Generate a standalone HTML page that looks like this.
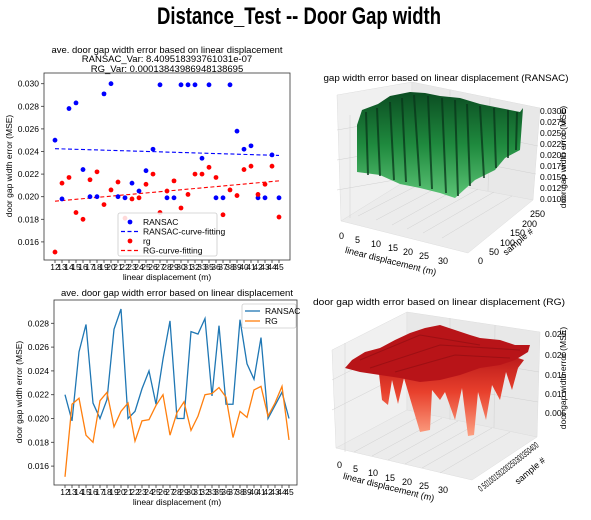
<!DOCTYPE html>
<html><head><meta charset="utf-8"><style>
body{margin:0;background:#fff;}
svg{display:block;font-family:"Liberation Sans","DejaVu Sans",sans-serif;}
</style></head><body>
<svg id="root" width="591" height="520" viewBox="0 0 591 520" xmlns="http://www.w3.org/2000/svg">
<defs>
<linearGradient id="gg" x1="0" y1="0" x2="0" y2="1"><stop offset="0" stop-color="#0b4d22"/><stop offset="0.5" stop-color="#1f8a3e"/><stop offset="1" stop-color="#5cc476"/></linearGradient>
<linearGradient id="rg" x1="0" y1="0" x2="0" y2="1"><stop offset="0" stop-color="#b01016"/><stop offset="0.5" stop-color="#e8402c"/><stop offset="1" stop-color="#fca082"/></linearGradient>
</defs>
<text x="299" y="24" text-anchor="middle" font-weight="bold" font-size="24" textLength="284" lengthAdjust="spacingAndGlyphs">Distance_Test -- Door Gap width</text>

<g id="sc">
<text x="167" y="53" text-anchor="middle" font-size="9.5" textLength="231" lengthAdjust="spacingAndGlyphs">ave. door gap width error based on linear displacement</text>
<text x="167" y="62" text-anchor="middle" font-size="9.5">RANSAC_Var: 8.409518393761031e-07</text>
<text x="167" y="72" text-anchor="middle" font-size="9.5">RG_Var: 0.00013843986948138695</text>
<rect x="44" y="73" width="246" height="187" fill="none" stroke="#333" stroke-width="0.8"/>
<text transform="translate(12,166) rotate(-90)" text-anchor="middle" font-size="8.5">door gap width error (MSE)</text>
<text x="167" y="280" text-anchor="middle" font-size="8.5">linear displacement (m)</text>
</g>

<g id="lc">
<text x="177" y="296" text-anchor="middle" font-size="9.5" textLength="232" lengthAdjust="spacingAndGlyphs">ave. door gap width error based on linear displacement</text>
<rect x="54" y="300" width="243" height="185" fill="none" stroke="#333" stroke-width="0.8"/>
<text transform="translate(22,392) rotate(-90)" text-anchor="middle" font-size="8.5">door gap width error (MSE)</text>
<text x="177" y="505" text-anchor="middle" font-size="8.5">linear displacement (m)</text>
</g>

<g>
<text x="446" y="81" text-anchor="middle" font-size="9.5" textLength="245" lengthAdjust="spacingAndGlyphs">gap width error based on linear displacement (RANSAC)</text>
<polygon points="337,95 412,82 412,177 341,221" fill="#f0f0f0" stroke="#ddd" stroke-width="0.5"/>
<polygon points="412,82 540,108 533,200 412,177" fill="#e8e8e8" stroke="#ddd" stroke-width="0.5"/>
<polygon points="341,221 468,253 533,200 412,177" fill="#ececec" stroke="#ddd" stroke-width="0.5"/>
<g stroke="#d0d0d0" stroke-width="0.5" fill="none">
<path d="M358,216 L428,180 M376,220 L446,183 M392,225 L462,186 M407,229 L478,189 M423,233 L494,192 M442,238 L512,196"/>
<path d="M350,115 L350,218 M337,130 L412,117 M337,160 L412,147 M337,190 L412,177"/>
<path d="M412,120 L538,146 M412,150 L536,174 M450,90 L450,184 M490,98 L488,191"/>
</g>
<polygon fill="url(#gg)" points="357,125 362,110 378,104 390,96 410,92 425,93 440,96 460,98 480,104 500,108 520,112 523,108 520,150 505,158 495,170 475,180 455,198 440,193 420,188 400,184 380,175 357,172"/>
<g stroke="#08361a" stroke-width="2" opacity="0.75">
<path d="M366,112 L368,175 M377,108 L380,176 M390,102 L394,180 M402,98 L406,182 M414,95 L420,186 M428,96 L432,189 M442,98 L446,193 M455,100 L458,196 M467,104 L470,186 M480,106 L484,178 M494,108 L496,168 M508,110 L508,158 M517,112 L516,150"/>
</g>
<g font-size="8.5">
<text x="540" y="114">0.0300</text><text x="540" y="125">0.0275</text><text x="540" y="136">0.0250</text><text x="540" y="147">0.0225</text><text x="540" y="158">0.0200</text><text x="540" y="169">0.0175</text><text x="540" y="180">0.0150</text><text x="540" y="191">0.0125</text><text x="540" y="202">0.0100</text>
</g>
<text transform="translate(566,157) rotate(-90)" text-anchor="middle" font-size="8.5">door gap width error (MSE)</text>
<g font-size="9">
<text x="339" y="239">0</text><text x="355" y="243">5</text><text x="371" y="247">10</text><text x="388" y="251">15</text><text x="403" y="255">20</text><text x="419" y="259">25</text><text x="438" y="264">30</text>
</g>
<text transform="translate(390,264) rotate(14)" text-anchor="middle" font-size="9">linear displacement (m)</text>
<g font-size="9">
<text x="478" y="264">0</text><text x="489" y="255">50</text><text x="500" y="246">100</text><text x="510" y="236">150</text><text x="522" y="227">200</text><text x="530" y="217">250</text>
</g>
<text transform="translate(520,244) rotate(-40)" text-anchor="middle" font-size="9">sample #</text>
</g>

<g>
<text x="439" y="305" text-anchor="middle" font-size="9.5" textLength="252" lengthAdjust="spacingAndGlyphs">door gap width error based on linear displacement (RG)</text>
<polygon points="332,350 407,312 407,410 336,448" fill="#f0f0f0" stroke="#ddd" stroke-width="0.5"/>
<polygon points="407,312 540,332 537,437 407,410" fill="#e8e8e8" stroke="#ddd" stroke-width="0.5"/>
<polygon points="336,448 472,480 537,437 407,410" fill="#ececec" stroke="#ddd" stroke-width="0.5"/>
<g stroke="#d0d0d0" stroke-width="0.5" fill="none">
<path d="M354,452 L424,414 M372,456 L442,418 M388,460 L458,421 M405,464 L475,425 M422,468 L492,428 M440,473 L510,432"/>
<path d="M345,343 L345,452 M332,380 L407,342 M332,410 L407,372 M407,350 L539,372 M407,380 L538,402 M450,318 L450,420 M495,325 L494,428"/>
</g>
<polygon fill="url(#rg)" points="378,365 382,400 388,405 392,380 398,404 404,378 420,432 430,430 432,390 440,400 445,392 455,420 462,388 468,436 474,435 478,392 486,420 492,385 500,400 506,372 512,390 518,368 524,360 500,352 460,348 420,350 390,355"/>
<polygon fill="#b81418" points="345,368 352,360 365,352 380,348 395,340 410,333 425,328 440,325 455,330 470,335 480,338 500,340 515,345 530,345 528,352 515,360 500,365 480,368 460,375 440,380 420,382 400,378 380,375 360,372"/>
<g stroke="#8a0c10" stroke-width="1" opacity="0.6" fill="none">
<path d="M360,360 L420,335 L480,345 M370,368 L440,345 L520,350 M395,372 L455,355 L510,358"/>
</g>
<g font-size="8.5">
<text x="545" y="337">0.025</text><text x="545" y="358">0.020</text><text x="545" y="378">0.015</text><text x="545" y="397">0.010</text><text x="545" y="416">0.005</text>
</g>
<text transform="translate(566,378) rotate(-90)" text-anchor="middle" font-size="8.5">door gap width error (MSE)</text>
<g font-size="9">
<text x="337" y="468">0</text><text x="353" y="472">5</text><text x="368" y="476">10</text><text x="385" y="481">15</text><text x="402" y="485">20</text><text x="419" y="489">25</text><text x="438" y="493">30</text>
</g>
<text transform="translate(388,490) rotate(14)" text-anchor="middle" font-size="9">linear displacement (m)</text>
<text transform="translate(481,492) rotate(-38)" font-size="9" textLength="74" lengthAdjust="spacingAndGlyphs">0 50100150200250300350400</text>
<text transform="translate(532,473) rotate(-40)" text-anchor="middle" font-size="9">sample #</text>
</g>
</svg>
<script>
const categories=[12,13,14,15,16,17,18,19,20,21,22,23,24,25,26,27,28,29,30,31,32,33,35,36,37,38,39,40,41,42,43,44,45];
const scatterRansac=[0.0250,0.0198,0.0278,0.0283,0.0224,0.0200,0.0200,0.0291,0.0300,0.0200,0.0199,0.0212,0.0205,0.0223,0.0242,0.0299,0.0199,0.0199,0.0299,0.0299,0.0299,0.0234,0.0299,0.0199,0.0199,0.0299,0.0258,0.0242,0.0245,0.0199,0.0199,0.0237,0.0199];
const scatterRg=[0.0151,0.0212,0.0217,0.0186,0.0180,0.0215,0.0222,0.0193,0.0206,0.0213,0.0181,0.0198,0.0199,0.0211,0.0220,0.0186,0.0205,0.0214,0.0190,0.0202,0.0220,0.0220,0.0226,0.0217,0.0184,0.0206,0.0201,0.0224,0.0227,0.0202,0.0211,0.0227,0.0182];
const fitRansac=[0.02425,0.02365];
const fitRg=[0.0196,0.0214];
const scatterYTicks=[0.016,0.018,0.020,0.022,0.024,0.026,0.028,0.030];
const lineRansac=[0.0220,0.0198,0.0256,0.0279,0.0213,0.0200,0.0216,0.0275,0.0292,0.0200,0.0206,0.0225,0.0240,0.0212,0.0250,0.0282,0.0200,0.0200,0.0273,0.0271,0.0284,0.0219,0.0278,0.0212,0.0212,0.0283,0.0246,0.0233,0.0268,0.0200,0.0211,0.0222,0.0200];
const lineRg=[0.0151,0.0212,0.0217,0.0186,0.0180,0.0215,0.0222,0.0193,0.0206,0.0213,0.0181,0.0198,0.0199,0.0211,0.0220,0.0186,0.0205,0.0214,0.0190,0.0202,0.0220,0.0221,0.0226,0.0218,0.0184,0.0206,0.0201,0.0224,0.0227,0.0202,0.0213,0.0227,0.0182];
const lineYTicks=[0.016,0.018,0.020,0.022,0.024,0.026,0.028];

const NS='http://www.w3.org/2000/svg';
function mk(tag,attrs,parent,txt){const e=document.createElementNS(NS,tag);for(const k in attrs)e.setAttribute(k,attrs[k]);if(txt!==undefined)e.textContent=txt;parent.appendChild(e);return e;}
const n=categories.length;

const sc=document.getElementById('sc');
const sx=i=>55+i*(279-55)/(n-1);
const sy=v=>83.7+(0.030-v)/0.002*22.6;
scatterYTicks.forEach(t=>{
  const l=mk('line',{x1:41,x2:44,y1:sy(t),y2:sy(t),stroke:'#333','stroke-width':0.8},sc);
  
  
  const tx=mk('text',{x:39,y:sy(t)+3,'text-anchor':'end','font-size':8.5},sc,t.toFixed(3));
  
  
});
categories.forEach((c,i)=>{
  const l=mk('line',{x1:sx(i),x2:sx(i),y1:260,y2:263,stroke:'#333','stroke-width':0.8},sc);
  
  
  const tx=mk('text',{x:sx(i),y:270,'text-anchor':'middle','font-size':8.5},sc,String(c));
  
  
});
const f1=mk('line',{x1:sx(0),x2:sx(n-1),y1:sy(fitRansac[0]),y2:sy(fitRansac[1]),stroke:'#0000ff','stroke-dasharray':'4,2.5','stroke-width':1.1},sc);


const f2=mk('line',{x1:sx(0),x2:sx(n-1),y1:sy(fitRg[0]),y2:sy(fitRg[1]),stroke:'#ff0000','stroke-dasharray':'4,2.5','stroke-width':1.1},sc);


scatterRansac.forEach((v,i)=>{
  const p=mk('circle',{cx:sx(i),cy:sy(v),r:2.4,fill:'#0000ff'},sc);
  
  
});
scatterRg.forEach((v,i)=>{
  const p=mk('circle',{cx:sx(i),cy:sy(v),r:2.4,fill:'#ff0000'},sc);
  
  
});
const lg=mk('g',{},sc);


mk('rect',{x:118,y:213,width:99,height:43,fill:'#fff','fill-opacity':0.85,stroke:'#ccc','stroke-width':0.8,rx:2},lg);
[['RANSAC','dot','#0000ff'],['RANSAC-curve-fitting','dash','#0000ff'],['rg','dot','#ff0000'],['RG-curve-fitting','dash','#ff0000']].forEach((e,k)=>{
  const y=222+k*9.5;
  const g=mk('g',{},lg);
  
  
  if(e[1]==='dot')mk('circle',{cx:130,cy:y,r:2.4,fill:e[2]},g);
  else mk('line',{x1:121,x2:139,y1:y,y2:y,stroke:e[2],'stroke-width':1.2,'stroke-dasharray':'4,2.5'},g);
  mk('text',{x:143,y:y+3,'font-size':8.5},g,e[0]);
});

const lc=document.getElementById('lc');
const lx=i=>65+i*(289-65)/(n-1);
const ly=v=>323.3+(0.028-v)/0.002*23.8;
lineYTicks.forEach(t=>{
  const l=mk('line',{x1:51,x2:54,y1:ly(t),y2:ly(t),stroke:'#333','stroke-width':0.8},lc);
  
  
  const tx=mk('text',{x:49,y:ly(t)+3,'text-anchor':'end','font-size':8.5},lc,t.toFixed(3));
  
  
});
categories.forEach((c,i)=>{
  const l=mk('line',{x1:lx(i),x2:lx(i),y1:485,y2:488,stroke:'#333','stroke-width':0.8},lc);
  
  
  const tx=mk('text',{x:lx(i),y:495,'text-anchor':'middle','font-size':8.5},lc,String(c));
  
  
});
const pr=mk('polyline',{points:lineRansac.map((v,i)=>lx(i)+','+ly(v)).join(' '),fill:'none',stroke:'#1f77b4','stroke-width':1.3},lc);


const pg=mk('polyline',{points:lineRg.map((v,i)=>lx(i)+','+ly(v)).join(' '),fill:'none',stroke:'#ff7f0e','stroke-width':1.3},lc);


const lg2=mk('g',{},lc);


mk('rect',{x:242,y:304,width:54,height:24,fill:'#fff','fill-opacity':0.85,stroke:'#ccc','stroke-width':0.8,rx:2},lg2);
[['RANSAC','#1f77b4'],['RG','#ff7f0e']].forEach((e,k)=>{
  const y=311+k*10;
  const g=mk('g',{},lg2);
  
  
  mk('line',{x1:245,x2:260,y1:y,y2:y,stroke:e[1],'stroke-width':1.3},g);
  mk('text',{x:265,y:y+3,'font-size':8.5},g,e[0]);
});
</script>
</body></html>
